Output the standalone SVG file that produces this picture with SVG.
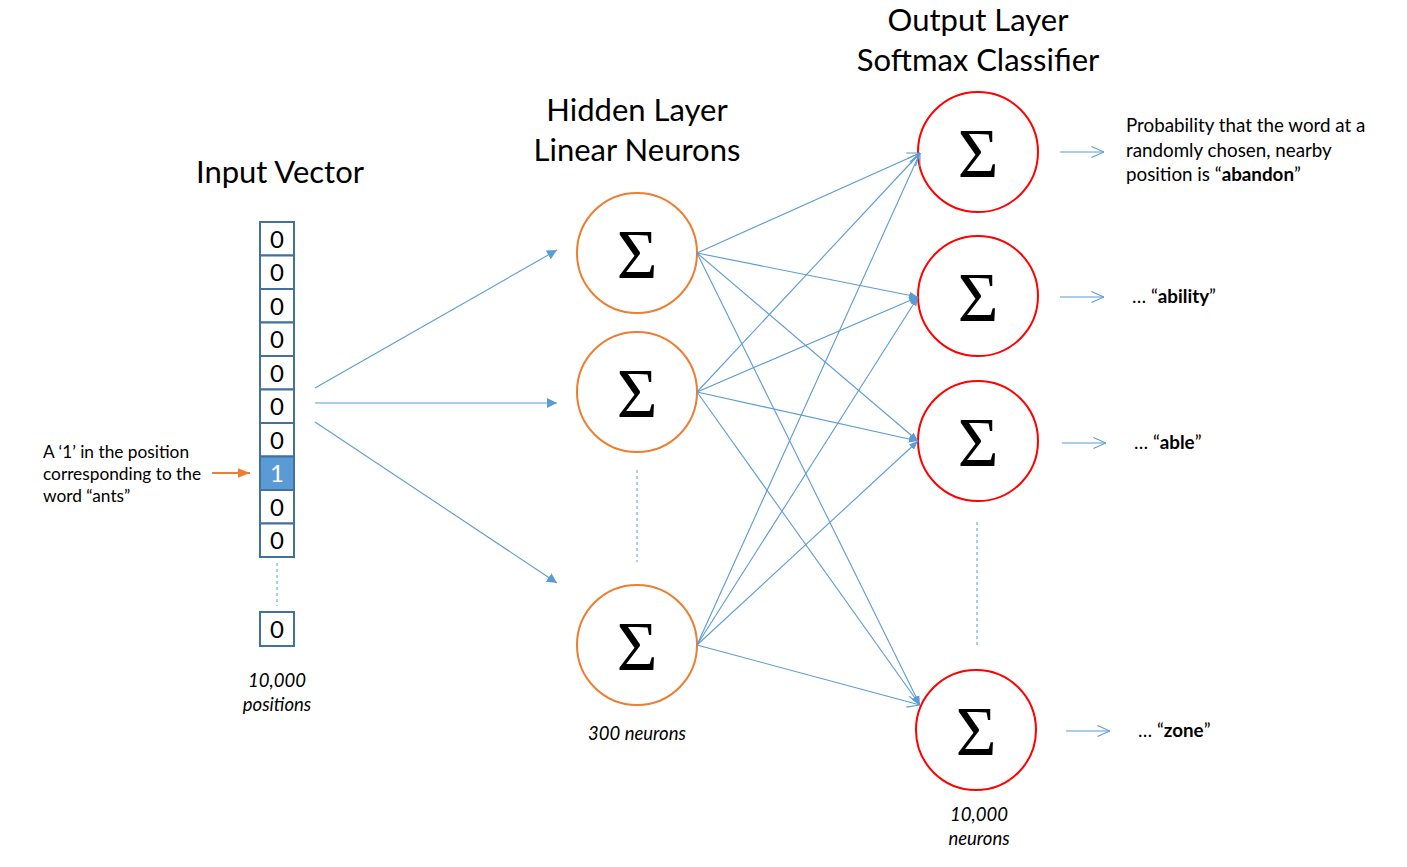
<svg xmlns="http://www.w3.org/2000/svg" width="1407" height="867" viewBox="0 0 1407 867">
<style>
.t{font-family:Lato,"Open Sans","Liberation Sans",sans-serif;fill:#000}
.title{font-size:31px;text-anchor:middle}
.lbl{font-size:18.8px}
.ll{font-size:17.3px}
.it{font-size:18.5px;font-style:italic;text-anchor:middle}
.box{fill:#fff;stroke:#41719C;stroke-width:2}
.num{font-family:Lato,"Open Sans","Liberation Sans",sans-serif;font-size:24px;text-anchor:middle;fill:#000}
.hid{fill:#fff;stroke:#ED7D31;stroke-width:2}
.out{fill:#fff;stroke:#FF0000;stroke-width:2}
.sig{font-family:"Liberation Serif","DejaVu Serif",serif;font-size:70px;text-anchor:middle;fill:#000}
.c{stroke:#5B9BD5;stroke-width:1.1;fill:none}
.dash{stroke:#5B9BD5;stroke-width:1;stroke-dasharray:3 3;fill:none}
</style>
<defs>
<marker id="a" viewBox="0 0 10 10" refX="10" refY="5" markerWidth="10" markerHeight="10" markerUnits="userSpaceOnUse" orient="auto"><path d="M0,0 L10,5 L0,10 z" fill="#5B9BD5"/></marker>
<marker id="s" viewBox="0 0 10 10" refX="10" refY="5" markerWidth="9" markerHeight="9" markerUnits="userSpaceOnUse" orient="auto"><path d="M0,1 L10,5 L0,9 z" fill="#5B9BD5"/></marker>
<marker id="o" viewBox="0 0 10 10" refX="10" refY="5" markerWidth="14" markerHeight="14" markerUnits="userSpaceOnUse" orient="auto"><path d="M1,1 L10,5 L1,9" fill="none" stroke="#5B9BD5" stroke-width="0.8"/></marker>
<marker id="or" viewBox="0 0 10 10" refX="10" refY="5" markerWidth="12" markerHeight="12" markerUnits="userSpaceOnUse" orient="auto"><path d="M0,1 L10,5 L0,9 z" fill="#ED7D31"/></marker>
</defs>

<g id="titles">
<text class="t title" x="280" y="183">Input Vector</text>
<text class="t title" x="637" y="121">Hidden Layer</text>
<text class="t title" x="637" y="161">Linear Neurons</text>
<text class="t title" x="978" y="31">Output Layer</text>
<text class="t title" x="978" y="71">Softmax Classifier</text>
</g>

<g id="input-vector">
<rect class="box" x="260" y="222" width="34" height="33.5"/>
<rect class="box" x="260" y="255.5" width="34" height="33.5"/>
<rect class="box" x="260" y="289" width="34" height="33.5"/>
<rect class="box" x="260" y="322.5" width="34" height="33.5"/>
<rect class="box" x="260" y="356" width="34" height="33.5"/>
<rect class="box" x="260" y="389.5" width="34" height="33.5"/>
<rect class="box" x="260" y="423" width="34" height="33.5"/>
<rect class="box" x="260" y="456.5" width="34" height="33.5" style="fill:#5B9BD5"/>
<rect class="box" x="260" y="490" width="34" height="33.5"/>
<rect class="box" x="260" y="523.5" width="34" height="33.5"/>
<rect class="box" x="260" y="612" width="34" height="34"/>
<text class="num" x="277" y="247.5">0</text>
<text class="num" x="277" y="281">0</text>
<text class="num" x="277" y="314.5">0</text>
<text class="num" x="277" y="348">0</text>
<text class="num" x="277" y="381.5">0</text>
<text class="num" x="277" y="415">0</text>
<text class="num" x="277" y="448.5">0</text>
<text class="num" x="277" y="482" style="fill:#fff">1</text>
<text class="num" x="277" y="515.5">0</text>
<text class="num" x="277" y="549">0</text>
<text class="num" x="277" y="637.5">0</text>
<line class="dash" x1="277" y1="563" x2="277" y2="606"/>
<text class="t it" x="277" y="687">10,000</text>
<text class="t it" x="277" y="711">positions</text>
</g>

<g id="input-note">
<text class="t ll" x="43" y="458">A ‘1’ in the position</text>
<text class="t ll" x="43" y="480">corresponding to the</text>
<text class="t ll" x="43" y="502">word “ants”</text>
<line x1="212" y1="473" x2="250" y2="473" stroke="#ED7D31" stroke-width="2" marker-end="url(#or)"/>
</g>

<g id="hidden1"><circle class="hid" cx="637" cy="253" r="60"/><text class="sig" x="637" y="278">Σ</text></g>
<g id="hidden2"><circle class="hid" cx="637" cy="392" r="60"/><text class="sig" x="637" y="417">Σ</text></g>
<g id="hidden3"><circle class="hid" cx="637" cy="645" r="60"/><text class="sig" x="637" y="670">Σ</text></g>
<g id="hidden-extra">
<line class="dash" x1="637" y1="470" x2="637" y2="562"/>
<text class="t it" x="637" y="740">300 neurons</text>
</g>

<g id="output1"><circle class="out" cx="978" cy="152" r="60"/><text class="sig" x="978" y="177">Σ</text></g>
<g id="output2"><circle class="out" cx="978" cy="296" r="60"/><text class="sig" x="978" y="321">Σ</text></g>
<g id="output3"><circle class="out" cx="978" cy="441" r="60"/><text class="sig" x="978" y="466">Σ</text></g>
<g id="output4"><circle class="out" cx="976" cy="730" r="60"/><text class="sig" x="976" y="755">Σ</text></g>
<g id="output-extra">
<line class="dash" x1="977" y1="522" x2="977" y2="645"/>
<text class="t it" x="979" y="821">10,000</text>
<text class="t it" x="979" y="845">neurons</text>
</g>

<g id="connectors">
<line class="c" x1="315" y1="388" x2="557" y2="250" marker-end="url(#a)"/>
<line class="c" x1="315" y1="403" x2="557" y2="403" marker-end="url(#a)"/>
<line class="c" x1="315" y1="422" x2="557" y2="583" marker-end="url(#a)"/>

<line class="c" x1="697" y1="253" x2="920" y2="153" marker-end="url(#o)"/>
<line class="c" x1="697" y1="253" x2="918" y2="297" marker-end="url(#s)"/>
<line class="c" x1="697" y1="253" x2="918" y2="441" marker-end="url(#s)"/>
<line class="c" x1="697" y1="253" x2="920" y2="705" marker-end="url(#s)"/>

<line class="c" x1="697" y1="392" x2="920" y2="153" marker-end="url(#o)"/>
<line class="c" x1="697" y1="392" x2="918" y2="297" marker-end="url(#s)"/>
<line class="c" x1="697" y1="392" x2="918" y2="441" marker-end="url(#s)"/>
<line class="c" x1="697" y1="392" x2="920" y2="705" marker-end="url(#s)"/>

<line class="c" x1="697" y1="645" x2="920" y2="153" marker-end="url(#o)"/>
<line class="c" x1="697" y1="645" x2="918" y2="297" marker-end="url(#s)"/>
<line class="c" x1="697" y1="645" x2="918" y2="441" marker-end="url(#s)"/>
<line class="c" x1="697" y1="645" x2="920" y2="705" marker-end="url(#o)"/>

<line class="c" x1="1060" y1="152" x2="1104" y2="152" marker-end="url(#o)"/>
<line class="c" x1="1060" y1="297" x2="1104" y2="297" marker-end="url(#o)"/>
<line class="c" x1="1062" y1="443" x2="1106" y2="443" marker-end="url(#o)"/>
<line class="c" x1="1066" y1="731" x2="1110" y2="731" marker-end="url(#o)"/>
</g>

<g id="output-labels">
<text class="t lbl" x="1126" y="132">Probability that the word at a</text>
<text class="t lbl" x="1126" y="157">randomly chosen, nearby</text>
<text class="t lbl" x="1126" y="181">position is “<tspan font-weight="bold">abandon</tspan>”</text>
<text class="t lbl" x="1132" y="303">… “<tspan font-weight="bold">ability</tspan>”</text>
<text class="t lbl" x="1134" y="449">… “<tspan font-weight="bold">able</tspan>”</text>
<text class="t lbl" x="1138" y="737">… “<tspan font-weight="bold">zone</tspan>”</text>
</g>
</svg>
